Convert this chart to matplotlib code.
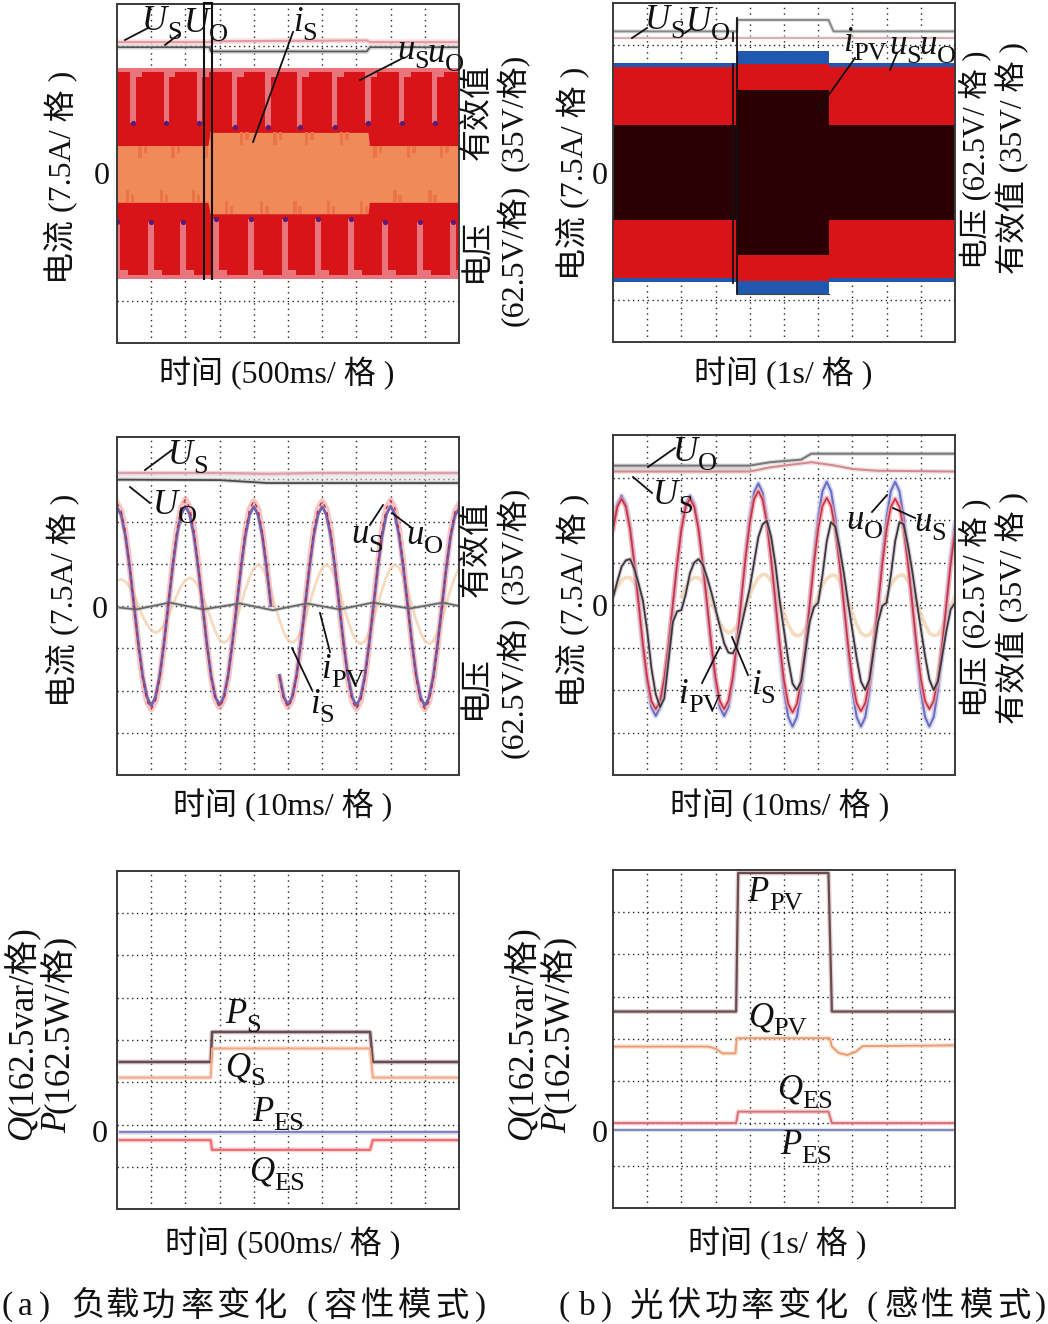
import numpy as np
import matplotlib
matplotlib.use('Agg')
import matplotlib.pyplot as plt
from matplotlib.lines import Line2D

plt.rcParams['font.family'] = ['Liberation Serif', 'Noto Sans CJK SC', 'DejaVu Sans']

W, H = 1048, 1324

# all values in oscilloscope divisions
# --- row 1 left
env_a = 2.48
band_x = [0, 2.66, 2.72, 7.34, 7.38, 10]
band_top = [0.66, 0.66, 0.97, 0.97, 0.66, 0.66]
band_bot = [-0.68, -0.68, -0.95, -0.95, -0.68, -0.68]
notch_top_x = [0.47, 1.44, 2.41, 3.44, 4.42, 5.34, 6.36, 7.34, 8.32, 9.29]
notch_top_end = [1.18, 1.18, 1.18, 1.09, 1.09, 1.09, 1.09, 1.18, 1.18, 1.18]
notch_bot_x = [0.0, 1.0, 1.93, 2.9, 3.93, 4.9, 5.88, 6.85, 7.83, 8.85, 9.82]
notch_bot_end = [-1.14, -1.14, -1.14, -1.07, -1.07, -1.07, -1.07, -1.07, -1.14, -1.14, -1.14]
a_us_x = [0, 2.7, 2.75, 7.3, 7.4, 10]
a_us_y = [3.1, 3.1, 3.12, 3.14, 3.1, 3.1]
a_uo_y = [2.98, 2.98, 2.88, 2.88, 2.98, 2.98]
marker_x = [2.54, 2.79]

# --- row 1 right
b_step_x = [0, 3.63, 3.63, 6.33, 6.33, 10]
b_blue_out = [2.58, 2.58, 2.87, 2.87, 2.58, 2.58]
b_blue_in = [2.5, 2.5, 2.55, 2.55, 2.5, 2.5]
b_dark = [1.12, 1.12, 1.95, 1.95, 1.12, 1.12]
b_uo_x = [0, 3.62, 3.64, 6.3, 6.45, 10]
b_uo_y = [3.33, 3.33, 3.6, 3.6, 3.33, 3.33]
b_us_y = [3.17, 3.17, 3.17, 3.17, 3.17, 3.17]

# --- row 2 left
c_us = [2.44, 2.25, 1.73, 0.93, 0, -0.93, -1.73, -2.25, -2.44, -2.25, -1.71, -0.91, 0.04, 0.99, 1.79, 2.33,
        2.52, 2.33, 1.80, 1.00, 0.06, -0.88, -1.68, -2.21, -2.40, -2.21, -1.69, -0.89, 0.04, 0.97, 1.77, 2.29,
        2.48, 2.29, 1.77, 0.97, 0.04, np.nan, -1.69, -2.21, -2.40, -2.21, -1.69, -0.89, 0.04, 0.97, 1.77, 2.29,
        2.48, 2.29, 1.76, 0.96, 0.02, -0.92, -1.72, -2.25, -2.44, -2.25, -1.72, -0.92, 0.03, 0.98, 1.78, 2.31,
        2.50, 2.31, 1.78, 0.98, 0.03, -0.92, -1.72, -2.25, -2.44, -2.26, -1.73, -0.95, -0.02, 0.91, 1.69, 2.22,
        2.40]
c_uo = [2.33, 2.15, 1.65, 0.89, 0, -0.89, -1.65, -2.15, -2.36, -2.16, -1.65, -0.88, 0.02, 0.91, 1.67, 2.17,
        2.36, 2.17, 1.67, 0.91, 0.02, -0.88, -1.65, -2.16, -2.34, -2.15, -1.64, -0.87, 0.01, 0.90, 1.66, 2.16,
        2.35, 2.16, 1.66, 0.90, 0.01, np.nan, -1.64, -2.15, -2.34, -2.15, -1.64, -0.87, 0.01, 0.90, 1.66, 2.16,
        2.35, 2.16, 1.66, 0.90, 0.01, -0.88, -1.65, -2.16, -2.36, -2.16, -1.65, -0.88, 0.01, 0.90, 1.66, 2.17,
        2.36, 2.17, 1.66, 0.90, 0.01, -0.88, -1.65, -2.16, -2.36, -2.17, -1.66, -0.90, -0.01, 0.88, 1.63, 2.13,
        2.30]
c_is = [0.60, 0.63, 0.58, 0.45, 0.25, 0, -0.24, -0.44, -0.58, -0.63, -0.58, -0.44, -0.24, 0.01, 0.25, 0.47,
        0.61, 0.67, 0.61, 0.46, 0.24, -0.02, -0.32, -0.60, -0.80, -0.87, -0.80, -0.60, -0.32, 0.04, 0.38, 0.68,
        0.90, 0.98, 0.90, 0.68, 0.36, -0.02, -0.33, -0.62, -0.80, -0.87, -0.80, -0.60, -0.32, 0.04, 0.38, 0.68,
        0.90, 0.98, 0.90, 0.68, 0.36, 0, -0.34, -0.63, -0.83, -0.90, -0.83, -0.62, -0.33, 0.04, 0.38, 0.68,
        0.90, 0.98, 0.90, 0.68, 0.36, 0, -0.34, -0.63, -0.83, -0.90, -0.83, -0.62, -0.33, 0.04, 0.38, 0.68,
        0.90]
c_ipv_x = [0.08, 0.56, 1.54, 2.52, 3.59, 4.56, 5.54, 6.51, 7.48, 8.56, 9.53, 10]
c_ipv_y = [-0.04, -0.08, 0.08, -0.08, 0.06, -0.10, 0.06, -0.08, 0.08, -0.06, 0.08, 0]
c_top_x = [0, 3.0, 4.4, 6, 10]
c_us_top = [3.15, 3.15, 3.13, 3.15, 3.15]
c_uo_top = [2.99, 2.98, 2.91, 2.91, 2.91]

# --- row 2 right
d_uo = [1.82, 2.37, 2.57, 2.37, 1.81, 0.97, -0.02, -1.01, -1.85, -2.41, -2.61, -2.41, -1.85, -1.01, -0.02, 0.97,
        1.81, 2.37, 2.57, 2.37, 1.81, 0.97, -0.02, -1.01, -1.85, -2.41, -2.61, -2.40, -1.81, -0.92, 0.13, 1.17,
        2.06, 2.65, 2.86, 2.64, 2.02, 1.09, 0, -1.09, -2.02, -2.64, -2.86, -2.64, -2.02, -1.08, 0.02, 1.12,
        2.06, 2.68, 2.90, 2.68, 2.06, 1.12, 0.02, -1.08, -2.02, -2.64, -2.86, -2.64, -2.02, -1.08, 0.02, 1.12,
        2.06, 2.68, 2.90, 2.68, 2.06, 1.12, 0.02, -1.08, -2.02, -2.64, -2.86, -2.64, -2.02, -1.08, 0.02, 1.12,
        1.90]
d_us = [1.77, 2.31, 2.50, 2.31, 1.78, 0.97, 0.03, -0.92, -1.72, -2.26, -2.45, -2.26, -1.72, -0.92, 0.03, 0.97,
        1.78, 2.31, 2.50, 2.31, 1.78, 0.97, 0.03, -0.92, -1.72, -2.26, -2.45, -2.25, -1.70, -0.87, 0.12, 1.10,
        1.93, 2.49, 2.68, 2.48, 1.92, 1.07, 0.08, -0.92, -1.77, -2.33, -2.53, -2.33, -1.79, -0.97, 0, 0.97,
        1.79, 2.33, 2.52, 2.33, 1.78, 0.97, 0.01, -0.95, -1.77, -2.31, -2.50, -2.31, -1.77, -0.96, 0, 0.96,
        1.77, 2.31, 2.50, 2.31, 1.78, 0.97, 0.03, -0.92, -1.72, -2.26, -2.45, -2.26, -1.72, -0.92, 0.03, 0.97,
        1.70]
d_ipv = [0.17, 0.55, 0.90, 1.05, 1.08, 0.85, 0.50, 0.10, -0.60, -1.50, -2.10, -2.40, -2.20, -1.30, -0.40, -0.15,
         -0.12, 0.25, 0.75, 1.00, 1.08, 0.95, 0.65, 0.30, -0.10, -0.50, -0.90, -1.12, -1.14, -0.95, -0.50, -0.05,
         0.40, 1.00, 1.60, 1.90, 1.98, 1.60, 0.95, 0.10, -0.60, -1.30, -1.85, -2.00, -1.80, -1.10, -0.40, -0.05,
         0.05, 0.70, 1.50, 1.95, 1.85, 1.35, 0.75, 0.05, -0.60, -1.25, -1.80, -2.00, -1.75, -1.05, -0.40, -0.02,
         0.05, 0.70, 1.50, 1.95, 1.90, 1.40, 0.80, 0.10, -0.55, -1.20, -1.75, -2.00, -1.80, -1.20, -0.60, -0.10,
         0.05]
d_is = [0.22, 0.42, 0.58, 0.65, 0.64, 0.52, 0.35, 0.10, np.nan, np.nan, np.nan, np.nan, np.nan, np.nan, np.nan, np.nan,
        0.20, 0.42, 0.58, 0.65, 0.64, 0.52, 0.33, 0.10, -0.18, -0.42, -0.58, -0.65, -0.62, -0.48, -0.25, -0.03,
        0.22, 0.46, 0.64, 0.72, 0.70, 0.56, 0.34, 0.08, -0.20, -0.46, -0.66, -0.73, -0.70, -0.54, -0.30, -0.03,
        0.22, 0.46, 0.62, 0.70, 0.70, 0.56, 0.34, 0.08, -0.20, -0.46, -0.66, -0.73, -0.70, -0.54, -0.30, -0.03,
        0.22, 0.46, 0.62, 0.70, 0.70, 0.56, 0.34, 0.08, -0.20, -0.46, -0.66, -0.72, -0.70, -0.54, -0.30, -0.03,
        0.22]
d_top_x = [0, 4.0, 4.6, 5.5, 5.8, 6.5, 7.0, 7.7, 10]
d_uo_top = [3.28, 3.28, 3.36, 3.42, 3.56, 3.56, 3.56, 3.56, 3.56]
d_us_top = [3.14, 3.14, 3.24, 3.33, 3.36, 3.28, 3.2, 3.16, 3.14]

# --- row 3 left
e_x = [0.08, 2.74, 2.78, 7.4, 7.48, 10]
e_ps = [1.65, 1.65, 2.36, 2.36, 1.65, 1.65]
e_qs = [1.28, 1.28, 1.97, 1.97, 1.28, 1.28]
e_pes = [0, 0, 0, 0, 0, 0]
e_qes = [-0.2, -0.2, -0.43, -0.43, -0.2, -0.2]

# --- row 3 right
f_x = [0, 3.6, 3.66, 6.3, 6.4, 10]
f_ppv = [2.8, 2.8, 6.08, 6.08, 2.8, 2.8]
f_qes = [0.16, 0.16, 0.43, 0.43, 0.16, 0.16]
f_pes = [0, 0, 0, 0, 0, 0]
f_qpv_x = [0, 2.8, 3.0, 3.2, 3.58, 3.62, 6.34, 6.4, 6.6, 6.85, 7.1, 7.3, 10]
f_qpv = [1.97, 1.97, 1.92, 1.81, 1.81, 2.17, 2.17, 1.97, 1.82, 1.77, 1.85, 1.98, 2.0]

# captions, x of each character (narrow brackets so they stay on the page)
cap_a = '(a)负载功率变化(容性模式)'
cap_b = '(b)光伏功率变化(感性模式)'
cap_a_x = [7, 25, 45, 88, 122, 158, 197, 233, 270, 312, 340, 377, 415, 452, 481]
cap_b_x = [564, 587, 607, 647, 684, 721, 757, 794, 831, 872, 901, 937, 977, 1014, 1040]

fig = plt.figure(figsize=(W / 100, H / 100), dpi=100)


def panel(box, ylim):
    l, t, r, b = box
    ax = fig.add_axes([l / W, 1 - b / H, (r - l) / W, (b - t) / H])
    ax.set_xlim(0, 10)
    ax.set_ylim(*ylim)
    ax.set_xticks([])
    ax.set_yticks([])
    for s in ax.spines.values():
        s.set_color('#3a3a3a')
        s.set_linewidth(1.4)
        s.set_zorder(20)
    for k in range(1, 10):
        ax.axvline(k, color='#222222', lw=1.0, ls=(0, (1, 3)), zorder=1)
    for k in range(1, 8):
        ax.axhline(ylim[0] + k, color='#222222', lw=1.0, ls=(0, (1, 2.5)), zorder=1)
    return ax


def trace(ax, x, y, core, halo, lw=1.4, halo_lw=3.5):
    ax.plot(x, y, color=halo, lw=halo_lw, alpha=0.55, solid_joinstyle='round', zorder=5)
    ax.plot(x, y, color=core, lw=lw, solid_joinstyle='round', zorder=6)


def txt(x, y, s, size=23, rot=0, ha='center', va='center', **kw):
    fig.text(x / W, 1 - y / H, s, fontsize=size, rotation=rot, ha=ha, va=va,
             color='#111111', rotation_mode='anchor', **kw)


def trace_label(cx, cy, base, sub):
    # italic symbol plus a large upright subscript, centred together on cx
    b = fig.text(0, 1 - (cy + 6) / H, base, fontsize=25, style='italic', color='#111111',
                 ha='left', va='baseline', zorder=40)
    s = fig.text(0, 1 - (cy + 15) / H, sub, fontsize=19, color='#111111',
                 ha='left', va='baseline', zorder=40)
    r = fig.canvas.get_renderer()
    wb = b.get_window_extent(r).width
    ws = s.get_window_extent(r).width
    x0 = cx - (wb + ws) / 2
    b.set_x(x0 / W)
    s.set_x((x0 + wb) / W)


def leader(x0, y0, x1, y1):
    fig.add_artist(Line2D([x0 / W, x1 / W], [1 - y0 / H, 1 - y1 / H], color='#111111', lw=1.3, zorder=30))


RED = '#d81419'
PINK = '#e8747c'
ORANGE = '#f08a58'
TOOTH = '#ea7448'
PURPLE = '#5a1a78'

# row 1 left: load change envelope
ax = panel((117, 4, 459, 343), (-4, 4))
ax.fill_between([0, 10], -env_a, env_a, color=RED, lw=0, zorder=2)
ax.fill_between([0, 10], env_a - 0.08, env_a, color=PINK, lw=0, zorder=3)
ax.fill_between([0, 10], -env_a, -env_a + 0.08, color=PINK, lw=0, zorder=3)
top_h = np.array(notch_top_end) - env_a
ax.bar(notch_top_x, top_h, width=0.16, bottom=env_a, color=PINK, lw=0, zorder=3)
ax.bar(np.array(notch_top_x) + 0.12, -0.2, width=0.3, bottom=env_a, color=PINK, lw=0, zorder=3)
ax.scatter(notch_top_x, notch_top_end, s=14, color=PURPLE, lw=0, zorder=4)
bot_h = np.array(notch_bot_end) + env_a
ax.bar(notch_bot_x, bot_h, width=0.18, bottom=-env_a, color=PINK, lw=0, zorder=3)
ax.bar(np.array(notch_bot_x) + 0.15, 0.2, width=0.35, bottom=-env_a, color=PINK, lw=0, zorder=3)
ax.scatter(notch_bot_x, notch_bot_end, s=14, color=PURPLE, lw=0, zorder=4)
ax.fill_between(band_x, band_bot, band_top, color=ORANGE, lw=0, zorder=4)
tx = np.array(notch_top_x)
bx = np.array(notch_bot_x)
ax.bar(tx + 0.2, -0.3, width=0.1, bottom=np.interp(tx + 0.2, band_x, band_top), color=TOOTH, lw=0, zorder=5)
ax.bar(tx + 0.36, -0.18, width=0.1, bottom=np.interp(tx + 0.36, band_x, band_top), color=TOOTH, lw=0, zorder=5)
ax.bar(bx + 0.3, 0.3, width=0.1, bottom=np.interp(bx + 0.3, band_x, band_bot), color=TOOTH, lw=0, zorder=5)
ax.bar(bx + 0.45, 0.18, width=0.1, bottom=np.interp(bx + 0.45, band_x, band_bot), color=TOOTH, lw=0, zorder=5)
trace(ax, a_us_x, a_us_y, '#e59aa0', '#f4c6cc', lw=1.5, halo_lw=4)
trace(ax, a_us_x, a_uo_y, '#555555', '#bbbbbb', lw=1.2, halo_lw=3.5)
for mx in marker_x:
    ax.plot([mx, mx], [4.02, -2.5], color='#111111', lw=1.5, zorder=25, clip_on=False)
ax.plot(marker_x, [4.02, 4.02], color='#111111', lw=1.5, zorder=25, clip_on=False)

# row 1 right: PV change envelope
ax = panel((613, 3, 955, 342), (-4, 4))
ax.fill_between(b_step_x, [-v for v in b_blue_out], b_blue_out, color='#1f58ae', lw=0, zorder=2)
ax.fill_between(b_step_x, [-v for v in b_blue_in], b_blue_in, color=RED, lw=0, zorder=3)
ax.fill_between(b_step_x, [-v for v in b_dark], b_dark, color='#2a0005', lw=0, zorder=4)
trace(ax, b_uo_x, b_uo_y, '#888888', '#cccccc', lw=1.4, halo_lw=3)
trace(ax, b_uo_x, b_us_y, '#d9a8ac', '#eeeeee', lw=1.3, halo_lw=3)
ax.plot([3.5, 3.5], [2.55, -2.6], color='#111111', lw=1.3, zorder=25)
ax.plot([3.5, 3.5], [3.3, 3.1], color='#111111', lw=1.3, zorder=25)
ax.plot([3.63, 3.63], [3.65, -2.87], color='#111111', lw=1.3, zorder=25)
ax.plot([3.63, 6.33], [-2.87, -2.87], color='#444444', lw=0.8, zorder=25)

# row 2 left
ax = panel((117, 437, 459, 775), (-4, 4))
xs = np.linspace(0, 10, len(c_us))
ax.plot(xs, c_is, color='#f4d4b4', lw=2.0, alpha=0.85, zorder=4)
ax.plot(xs, c_us, color='#f0a0a0', lw=4.5, alpha=0.6, zorder=5)
ax.plot(xs, c_uo, color='#6f62b0', lw=2.0, zorder=6)
ax.plot(xs, c_us, color='#c8202a', lw=0.9, ls=(0, (3, 4)), zorder=7)
trace(ax, c_ipv_x, c_ipv_y, '#666666', '#aaaaaa', lw=1.2, halo_lw=2.5)
ax.fill_between(c_top_x, c_uo_top, c_us_top, color='#dddddd', lw=0, alpha=0.5, zorder=2)
trace(ax, c_top_x, c_us_top, '#dba0a8', '#f0c8d0', lw=1.6, halo_lw=3.5)
trace(ax, c_top_x, c_uo_top, '#4a4a4a', '#bbbbbb', lw=1.3, halo_lw=3)

# row 2 right
ax = panel((613, 435, 955, 775), (-4, 4))
xs = np.linspace(0, 10, len(d_uo))
ax.plot(xs, d_is, color='#f5d6b4', lw=2.6, alpha=0.85, zorder=4)
ax.plot(xs, d_uo, color='#d0d0f0', lw=4, alpha=0.8, zorder=5)
ax.plot(xs, d_uo, color='#6a70c0', lw=1.5, zorder=6)
ax.plot(xs, d_us, color='#f0a0a0', lw=3.5, alpha=0.7, zorder=6)
ax.plot(xs, d_us, color='#c9304a', lw=1.2, zorder=7)
ax.plot(xs, d_ipv, color='#bbbbbb', lw=3, alpha=0.6, zorder=7)
ax.plot(xs, d_ipv, color='#3f3340', lw=1.3, zorder=8)
ax.fill_between(d_top_x[:2], d_us_top[:2], d_uo_top[:2], color='#d8d8d8', lw=0, zorder=2)
trace(ax, d_top_x, d_uo_top, '#777777', '#bbbbbb', lw=1.4, halo_lw=3)
trace(ax, d_top_x, d_us_top, '#cf8a90', '#e8c8cc', lw=1.4, halo_lw=3.5)

# row 3 left
ax = panel((117, 871, 459, 1209), (-1.83, 6.17))
trace(ax, e_x, e_ps, '#6b4a50', '#b8a8b0', lw=1.8, halo_lw=3.5)
trace(ax, e_x, e_qs, '#f0a888', '#f8d0c0', lw=1.4, halo_lw=3.5)
trace(ax, e_x, e_pes, '#7f7fc0', '#c4c4e4', lw=1.4, halo_lw=3.5)
trace(ax, e_x, e_qes, '#ee6a70', '#f8b0b0', lw=1.5, halo_lw=3.5)

# row 3 right
ax = panel((613, 870, 955, 1208), (-1.85, 6.15))
trace(ax, f_x, f_ppv, '#6b4a50', '#c8b0b4', lw=1.6, halo_lw=3.5)
trace(ax, f_qpv_x, f_qpv, '#e89a70', '#f6d2b8', lw=1.3, halo_lw=3.5)
trace(ax, f_x, f_qes, '#d87078', '#f0b8b8', lw=1.4, halo_lw=3.5)
trace(ax, f_x, f_pes, '#7f88b8', '#c8cce0', lw=1.4, halo_lw=3)

# zero labels
for zx, zy in [(102, 176), (600, 176), (100, 610), (600, 609), (100, 1134), (600, 1134)]:
    txt(zx, zy, '0', size=23)

# current axis labels
for lx, ly in [(60, 177), (572, 173), (62, 600), (572, 600)]:
    txt(lx, ly, '电流 (7.5A/ 格 )', size=23, rot=90)

# left column right labels
txt(478, 112, '有效值', rot=90)
txt(478, 250, '电压', rot=90)
txt(513, 112, '(35V/格)', rot=90)
txt(513, 255, '(62.5V/格)', rot=90)
txt(477, 549, '有效值', rot=90)
txt(477, 687, '电压', rot=90)
txt(513, 545, '(35V/格)', rot=90)
txt(513, 687, '(62.5V/格)', rot=90)
# right column right labels
txt(975, 160, '电压 (62.5V/ 格 )', size=22, rot=90)
txt(1012, 158, '有效值 (35V/ 格 )', size=22.5, rot=90)
txt(975, 608, '电压 (62.5V/ 格 )', size=22, rot=90)
txt(1012, 608, '有效值 (35V/ 格 )', size=22.5, rot=90)

# power axis labels
for qx, px in [(22, 58), (522, 558)]:
    txt(qx, 1140, 'Q', size=25, rot=90, ha='left', style='italic')
    txt(qx, 1116, '(162.5var/格)', size=25, rot=90, ha='left')
    txt(px, 1133, 'P', size=25, rot=90, ha='left', style='italic')
    txt(px, 1113, '(162.5W/格)', size=25, rot=90, ha='left')

# time labels
for lx, ly, s in [(277, 373, '时间 (500ms/ 格 )'), (783, 373, '时间 (1s/ 格 )'),
                  (283, 806, '时间 (10ms/ 格 )'), (780, 806, '时间 (10ms/ 格 )'),
                  (283, 1243, '时间 (500ms/ 格 )'), (777, 1243, '时间 (1s/ 格 )')]:
    txt(lx, ly, s)

# captions, one character at a time for the wide spacing
for s, xs in [(cap_a, cap_a_x), (cap_b, cap_b_x)]:
    for ch, cx in zip(s, xs):
        txt(cx, 1307, ch, size=24)

# trace labels
labels = [
    (162, 24, 'U', 'S'), (206, 26, 'U', 'O'), (305, 25, 'i', 'S'),
    (413, 53, 'u', 'S'), (446, 56, 'u', 'O'),
    (665, 23, 'U', 'S'), (708, 25, 'U', 'O'), (865, 45, 'i', 'PV'),
    (905, 48, 'u', 'S'), (938, 48, 'u', 'O'),
    (188, 458, 'U', 'S'), (175, 508, 'U', 'O'), (367, 537, 'u', 'S'),
    (425, 538, 'u', 'O'), (343, 672, 'i', 'PV'), (322, 707, 'i', 'S'),
    (695, 455, 'U', 'O'), (673, 498, 'U', 'S'), (865, 523, 'u', 'O'),
    (930, 525, 'u', 'S'), (700, 697, 'i', 'PV'), (763, 688, 'i', 'S'),
    (243, 1017, 'P', 'S'), (245, 1070, 'Q', 'S'),
    (278, 1115, 'P', 'ES'), (277, 1175, 'Q', 'ES'),
    (775, 895, 'P', 'PV'), (777, 1020, 'Q', 'PV'),
    (805, 1093, 'Q', 'ES'), (806, 1148, 'P', 'ES'),
]
for lx, ly, base, sub in labels:
    trace_label(lx, ly, base, sub)

# leader lines
for seg in [(125, 40, 148, 28), (165, 45, 178, 35), (293, 32, 253, 142), (403, 58, 360, 80),
            (632, 38, 647, 28), (685, 33, 692, 28), (855, 58, 818, 110), (897, 53, 890, 70),
            (172, 450, 145, 470), (130, 487, 150, 503), (383, 505, 370, 525), (392, 513, 412, 528),
            (320, 613, 330, 652), (292, 648, 312, 690),
            (675, 448, 648, 467), (633, 477, 652, 493), (887, 495, 872, 512), (893, 508, 915, 518),
            (720, 647, 702, 683), (732, 637, 748, 675)]:
    leader(*seg)

fig.savefig('out.png', dpi=100, facecolor='white')
